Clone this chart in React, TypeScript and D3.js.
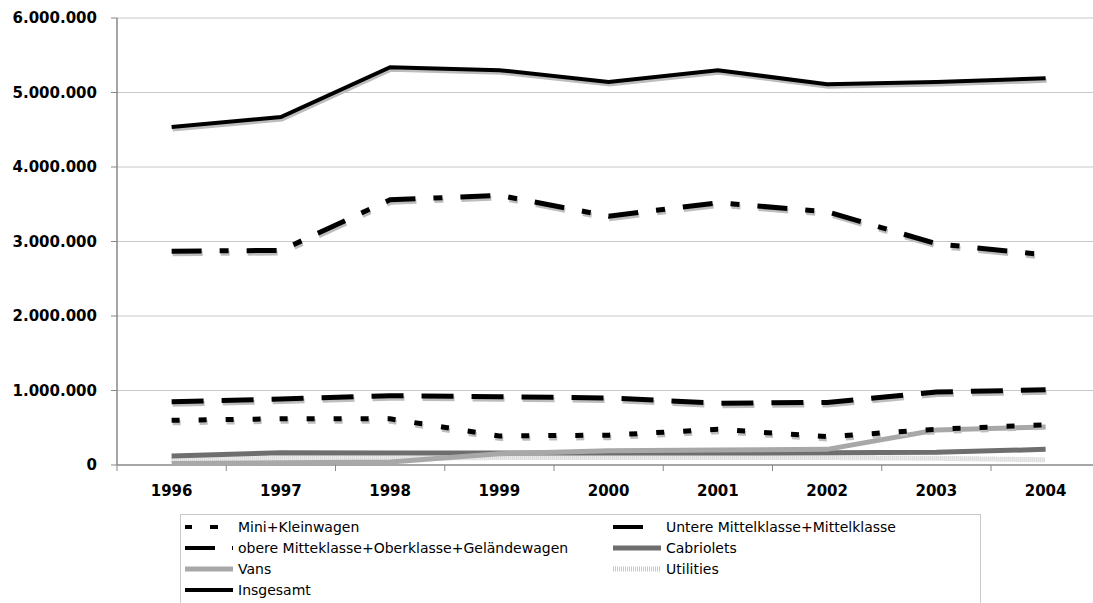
import React from "react";
import * as d3 from "d3";

const years = ["1996", "1997", "1998", "1999", "2000", "2001", "2002", "2003", "2004"];
const mini = [600000, 620000, 620000, 390000, 400000, 480000, 380000, 480000, 540000];
const untere = [2870000, 2880000, 3560000, 3620000, 3340000, 3520000, 3400000, 2970000, 2820000];
const obere = [850000, 886000, 930000, 917000, 900000, 830000, 840000, 980000, 1010000];
const cabriolets = [120000, 165000, 160000, 160000, 160000, 160000, 165000, 170000, 210000];
const vans = [20000, 30000, 40000, 150000, 190000, 200000, 210000, 470000, 510000];
const utilities = [70000, 90000, 90000, 100000, 100000, 100000, 100000, 90000, 70000];
const insgesamt = [4537000, 4670000, 5340000, 5300000, 5140000, 5300000, 5110000, 5140000, 5190000];
const yTicks = [0, 1000000, 2000000, 3000000, 4000000, 5000000, 6000000];

type S = { name: string; values: number[]; color: string; width: number; dash?: string; legendDash?: string; shadow: boolean };

const series: S[] = [
  { name: "Utilities", values: utilities, color: "#c8c8c8", width: 5, dash: "1,1", shadow: false },
  { name: "Cabriolets", values: cabriolets, color: "#6e6e6e", width: 5, shadow: false },
  { name: "Vans", values: vans, color: "#a8a8a8", width: 5, shadow: false },
  { name: "Mini+Kleinwagen", values: mini, color: "#000", width: 5, dash: "8,19", legendDash: "7,18,8,40", shadow: true },
  { name: "obere Mitteklasse+Oberklasse+Geländewagen", values: obere, color: "#000", width: 5, dash: "32,18", legendDash: "30,17,2,40", shadow: true },
  { name: "Untere Mittelklasse+Mittelklasse", values: untere, color: "#000", width: 5, dash: "30,18,9,18", legendDash: "30,18,2,40", shadow: true },
  { name: "Insgesamt", values: insgesamt, color: "#000", width: 4, shadow: true },
];

const fmt = (v: number) => (v === 0 ? "0" : d3.format(",")(v).replace(/,/g, "."));

export default function App() {
  const W = 1093, H = 603;
  const left = 117, top = 18, bottom = 465;
  const band = 109.25;
  const x = d3.scaleBand<string>().domain(years).range([left, left + band * years.length]);
  const y = d3.scaleLinear().domain([0, 6000000]).range([bottom, top]);
  const cx = (yr: string) => (x(yr) as number) + x.bandwidth() / 2;
  const line = d3.line<number>().x((_, i) => cx(years[i])).y((d) => y(d));
  const font = "'DejaVu Sans', Verdana, sans-serif";

  const legendItems: { s: S; col: number; row: number }[] = [
    { s: series[3], col: 0, row: 0 },
    { s: series[5], col: 1, row: 0 },
    { s: series[4], col: 0, row: 1 },
    { s: series[1], col: 1, row: 1 },
    { s: series[2], col: 0, row: 2 },
    { s: series[0], col: 1, row: 2 },
    { s: series[6], col: 0, row: 3 },
  ];
  const colX = [185, 613];

  return (
    <svg width={W} height={H} style={{ position: "absolute", left: 0, top: 0, background: "#fff" }} fontFamily={font}>
      {yTicks.map((t) => (
        <g key={t}>
          <line x1={left} x2={W} y1={y(t)} y2={y(t)} stroke={t === 0 ? "#888" : "#c8c8c8"} strokeWidth={t === 0 ? 1.5 : 1} />
          <line x1={left - 6} x2={left} y1={y(t)} y2={y(t)} stroke="#888" />
          <text x={97} y={y(t)} dy="0.36em" textAnchor="end" fontWeight="bold" fontSize={15}>{fmt(t)}</text>
        </g>
      ))}
      <line x1={left} x2={left} y1={top} y2={bottom} stroke="#888" strokeWidth={1.5} />
      {d3.range(years.length + 1).map((i) => (
        <line key={i} x1={left + i * band} x2={left + i * band} y1={bottom} y2={bottom + 6} stroke="#888" />
      ))}
      {years.map((yr) => (
        <text key={yr} x={cx(yr)} y={496} textAnchor="middle" fontWeight="bold" fontSize={15}>{yr}</text>
      ))}
      {series.map((s) => (
        <g key={s.name}>
          {s.shadow && (
            <path d={line(s.values) || ""} fill="none" stroke="#bdbdbd" strokeWidth={s.width} strokeDasharray={s.dash} transform="translate(1,2.5)" />
          )}
          <path d={line(s.values) || ""} fill="none" stroke={s.color} strokeWidth={s.width} strokeDasharray={s.dash} />
        </g>
      ))}
      <rect x={180.5} y={514.5} width={800} height={100} fill="#fff" stroke="#c8c8c8" />
      {legendItems.map(({ s, col, row }) => {
        const ly = 527 + row * 21;
        const lx = colX[col];
        return (
          <g key={s.name}>
            <line x1={lx} x2={lx + 48} y1={ly} y2={ly} stroke={s.color} strokeWidth={s.legendDash ? 4 : s.width} strokeDasharray={s.legendDash || s.dash} />
            <text x={lx + 53} y={ly} dy="0.36em" fontSize={14}>{s.name}</text>
          </g>
        );
      })}
    </svg>
  );
}
